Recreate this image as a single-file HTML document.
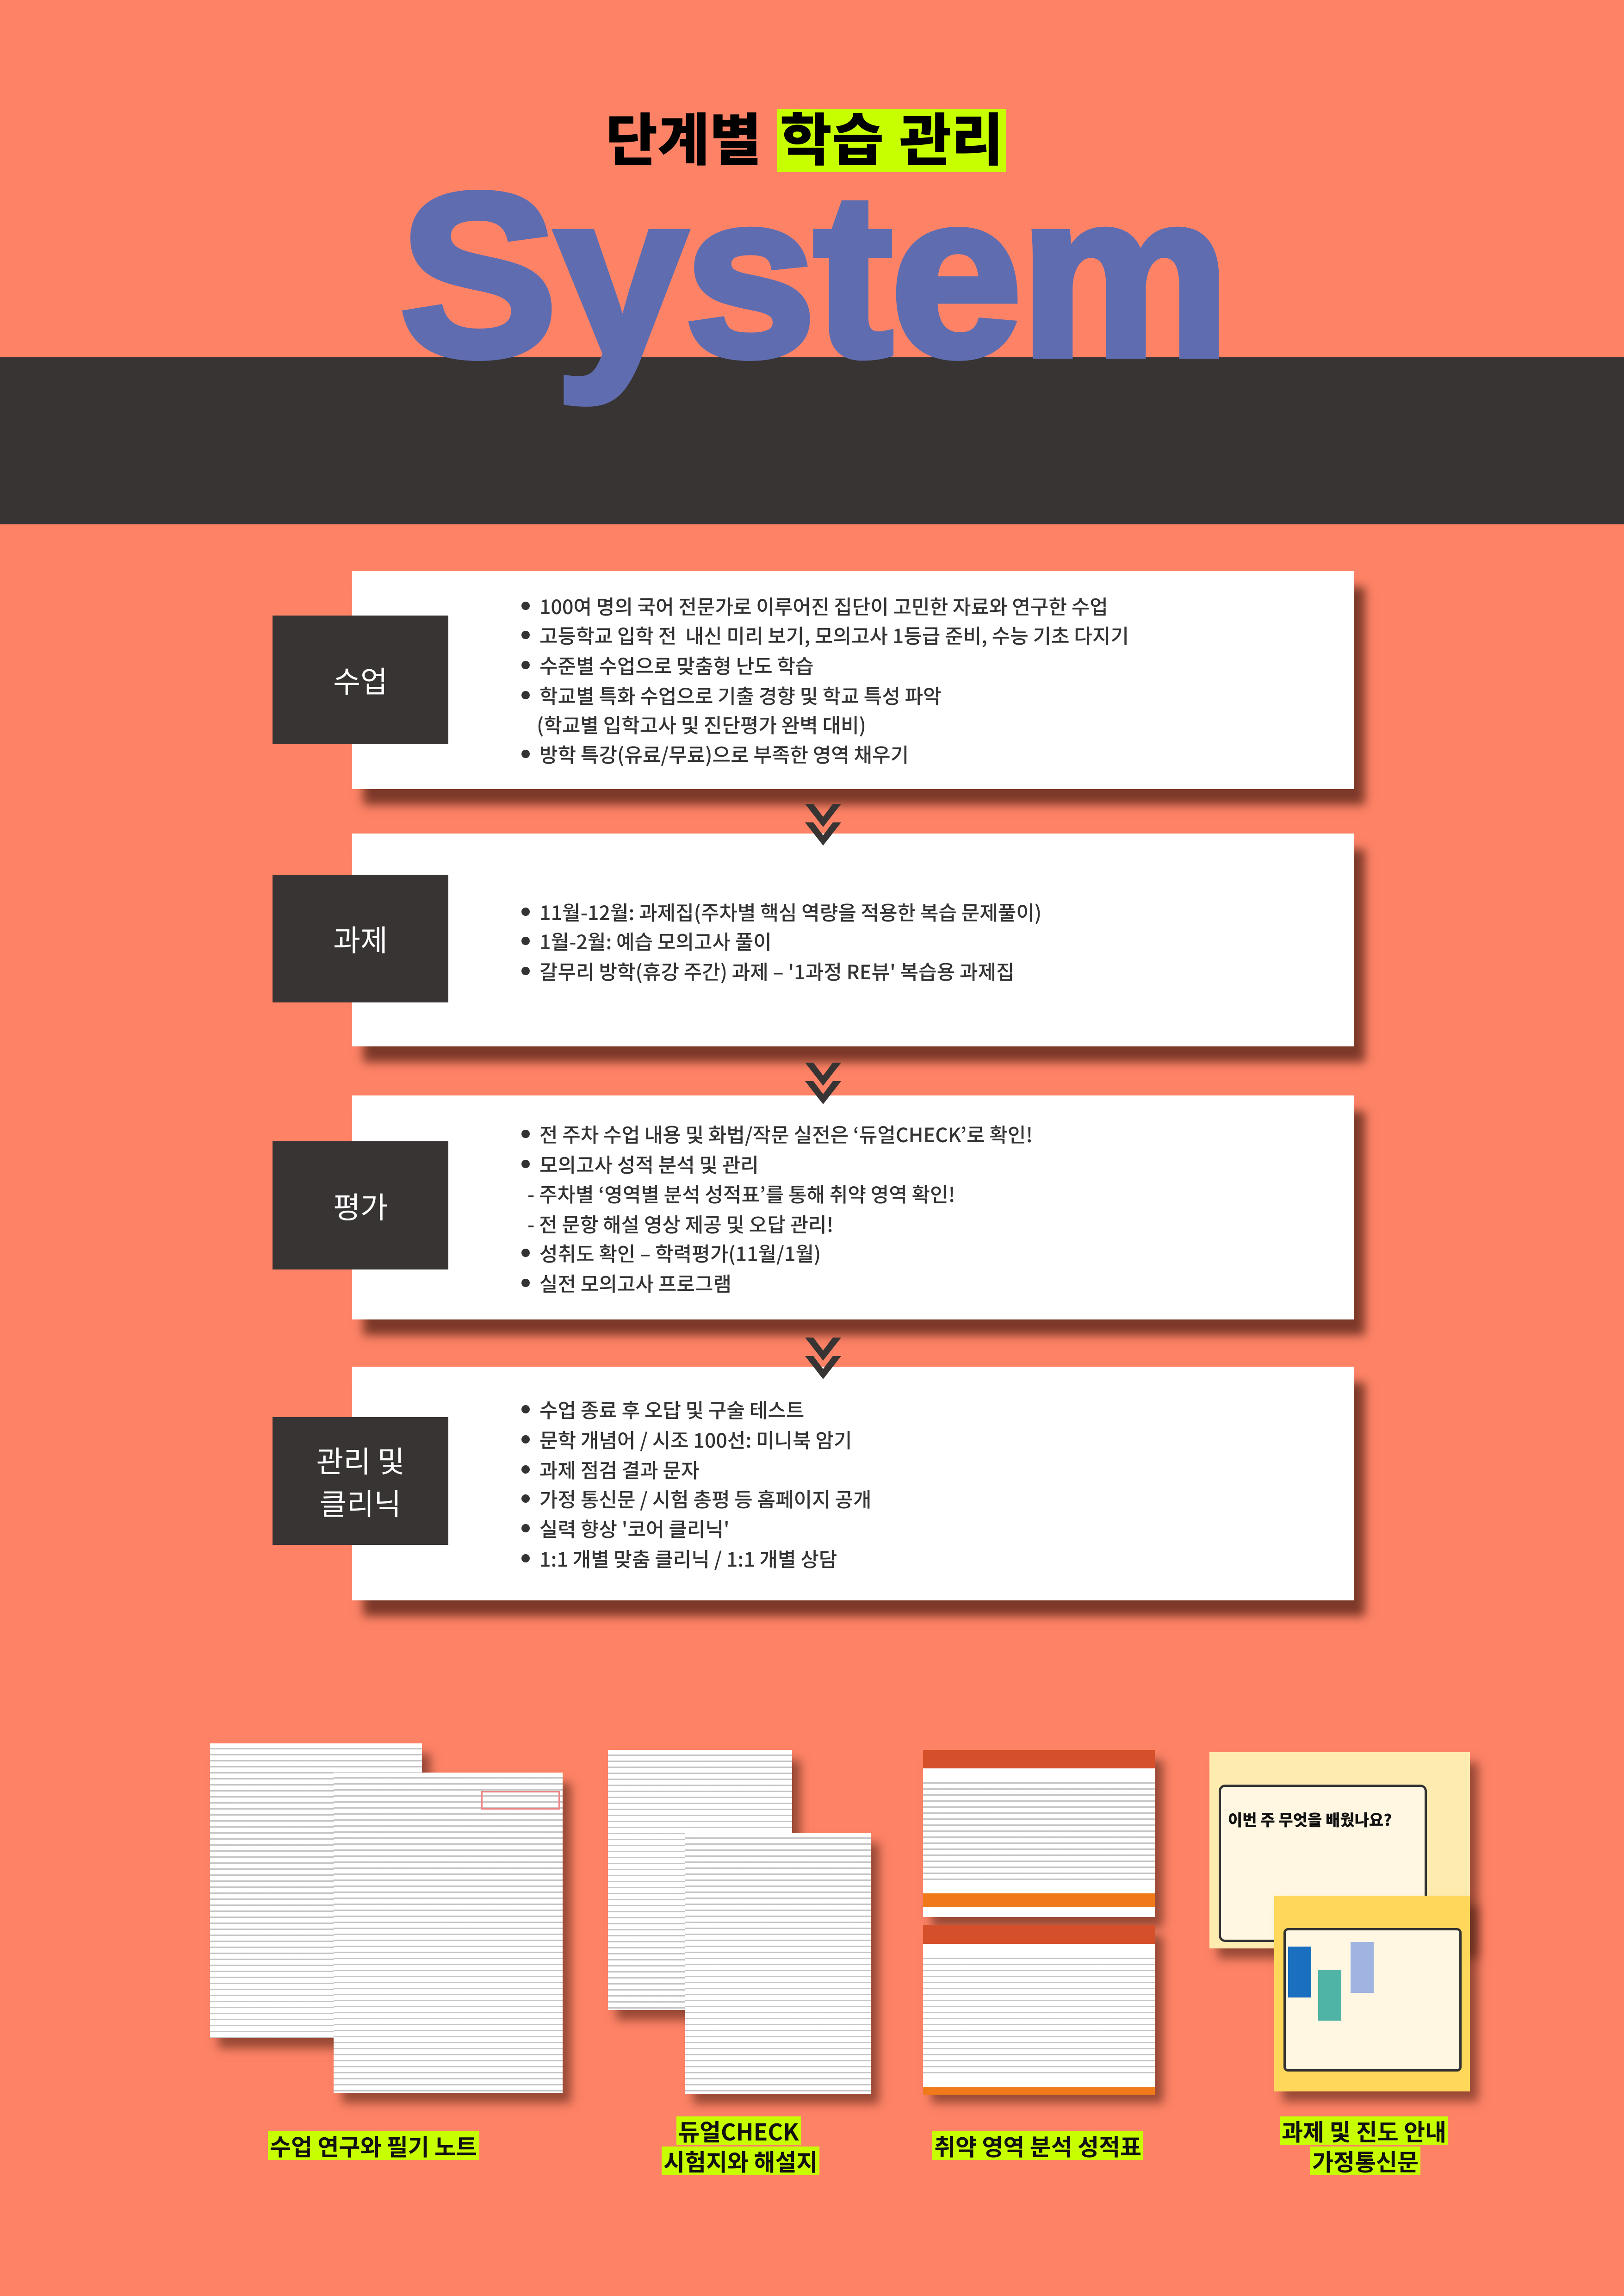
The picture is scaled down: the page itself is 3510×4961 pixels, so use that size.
<!DOCTYPE html>
<html><head><meta charset="utf-8">
<style>
*{margin:0;padding:0;box-sizing:border-box}
body{width:3510px;height:4961px;background:#FE8366;position:relative;overflow:hidden;font-family:"Liberation Sans","Noto Sans CJK KR",sans-serif}
.abs{position:absolute}
.band{left:0;top:772px;width:3510px;height:361px;background:#383434}
.title{left:1309px;top:214px;font-family:"Liberation Sans","Noto Sans CJK KR",sans-serif;font-weight:900;font-size:122px;line-height:180px;color:#000;white-space:nowrap}
.title span{background:#C8FF00;padding:0 6px}
.sys{left:864px;top:274px;font-family:"Liberation Sans",sans-serif;font-weight:bold;font-size:500px;line-height:640px;color:#5F6DB0;-webkit-text-stroke:16px #5F6DB0;letter-spacing:-4px;white-space:nowrap;transform-origin:0 0;transform:scaleX(1.02)}
.box{left:761px;width:2165px;background:#fff;box-shadow:24px 34px 20px rgba(70,25,15,0.7)}
.lab{left:589px;width:380px;background:#383434;color:#fff;font-family:"Noto Sans CJK KR",sans-serif;font-size:64px;display:flex;align-items:center;justify-content:center;text-align:center;line-height:92px}
.ln{position:absolute;left:1166px;font-family:"Noto Sans CJK KR",sans-serif;font-weight:500;font-size:43px;color:#333;white-space:nowrap;line-height:52px;transform:translateY(-26px)}
.ln.b::before{content:"";position:absolute;left:-39px;top:17px;width:18px;height:18px;border-radius:50%;background:#333}
.chev{position:absolute;left:1740px;width:78px;height:90px;z-index:5}
.cap{position:absolute;font-family:"Noto Sans CJK KR",sans-serif;font-weight:bold;font-size:50px;line-height:62px;color:#111;white-space:nowrap;background:#C8FF00;padding:0 4px}
.pg{position:absolute;background:#fff;box-shadow:18px 22px 20px rgba(70,25,15,0.55)}
.tx{background-image:repeating-linear-gradient(180deg,transparent 0 10px,rgba(90,90,90,.35) 10px 13px)}
</style></head><body>
<div class="abs band"></div>
<div class="abs title">단계별 <span>학습 관리</span></div>
<div class="abs sys">System</div>

<div class="abs box" style="top:1234px;height:471px"></div>
<div class="abs lab" style="top:1330px;height:277px">수업</div>
<div class="ln b" style="top:1309px">100여 명의 국어 전문가로 이루어진 집단이 고민한 자료와 연구한 수업</div>
<div class="ln b" style="top:1372px">고등학교 입학 전&nbsp; 내신 미리 보기, 모의고사 1등급 준비, 수능 기초 다지기</div>
<div class="ln b" style="top:1437px">수준별 수업으로 맞춤형 난도 학습</div>
<div class="ln b" style="top:1502px">학교별 특화 수업으로 기출 경향 및 학교 특성 파악</div>
<div class="ln" style="top:1565px;left:1160px">(학교별 입학고사 및 진단평가 완벽 대비)</div>
<div class="ln b" style="top:1629px">방학 특강(유료/무료)으로 부족한 영역 채우기</div>

<svg class="chev" style="top:1737px" viewBox="0 0 78 90"><path d="M0 0L18 0L39 28L60 0L78 0L39 50Z M0 40L18 40L39 68L60 40L78 40L39 90Z" fill="#383434"/></svg>

<div class="abs box" style="top:1801px;height:460px"></div>
<div class="abs lab" style="top:1890px;height:276px">과제</div>
<div class="ln b" style="top:1970px">11월-12월: 과제집(주차별 핵심 역량을 적용한 복습 문제풀이)</div>
<div class="ln b" style="top:2033px">1월-2월: 예습 모의고사 풀이</div>
<div class="ln b" style="top:2098px">갈무리 방학(휴강 주간) 과제 – '1과정 RE뷰' 복습용 과제집</div>

<svg class="chev" style="top:2296px" viewBox="0 0 78 90"><path d="M0 0L18 0L39 28L60 0L78 0L39 50Z M0 40L18 40L39 68L60 40L78 40L39 90Z" fill="#383434"/></svg>

<div class="abs box" style="top:2367px;height:484px"></div>
<div class="abs lab" style="top:2466px;height:277px">평가</div>
<div class="ln b" style="top:2450px">전 주차 수업 내용 및 화법/작문 실전은 ‘듀얼CHECK’로 확인!</div>
<div class="ln b" style="top:2515px">모의고사 성적 분석 및 관리</div>
<div class="ln" style="top:2579px;left:1140px">- 주차별 ‘영역별 분석 성적표’를 통해 취약 영역 확인!</div>
<div class="ln" style="top:2644px;left:1140px">- 전 문항 해설 영상 제공 및 오답 관리!</div>
<div class="ln b" style="top:2707px">성취도 확인 – 학력평가(11월/1월)</div>
<div class="ln b" style="top:2772px">실전 모의고사 프로그램</div>

<svg class="chev" style="top:2890px" viewBox="0 0 78 90"><path d="M0 0L18 0L39 28L60 0L78 0L39 50Z M0 40L18 40L39 68L60 40L78 40L39 90Z" fill="#383434"/></svg>

<div class="abs box" style="top:2953px;height:505px"></div>
<div class="abs lab" style="top:3062px;height:276px">관리 및<br>클리닉</div>
<div class="ln b" style="top:3045px">수업 종료 후 오답 및 구술 테스트</div>
<div class="ln b" style="top:3110px">문학 개념어 / 시조 100선: 미니북 암기</div>
<div class="ln b" style="top:3175px">과제 점검 결과 문자</div>
<div class="ln b" style="top:3238px">가정 통신문 / 시험 총평 등 홈페이지 공개</div>
<div class="ln b" style="top:3302px">실력 향상 '코어 클리닉'</div>
<div class="ln b" style="top:3367px">1:1 개별 맞춤 클리닉 / 1:1 개별 상담</div>

<div class="pg tx" style="left:454px;top:3767px;width:458px;height:637px"></div>
<div class="pg tx" style="left:721px;top:3830px;width:495px;height:692px;background-color:#fff"></div>
<div class="abs" style="left:1040px;top:3870px;width:170px;height:40px;border:3px solid #e88;"></div>
<div class="pg tx" style="left:1314px;top:3781px;width:398px;height:562px"></div>
<div class="pg tx" style="left:1480px;top:3960px;width:402px;height:564px"></div>
<div class="pg" style="left:1995px;top:3781px;width:501px;height:361px">
 <div style="height:40px;background:#D5502A"></div>
 <div class="tx" style="margin:20px 0;height:230px"></div>
 <div style="height:30px;background:#F07A1A"></div>
</div>
<div class="pg" style="left:1995px;top:4160px;width:501px;height:362px">
 <div style="height:40px;background:#D5502A"></div>
 <div class="tx" style="margin:20px 0;height:270px"></div>
 <div style="height:16px;background:#F07A1A"></div>
</div>
<div class="pg" style="left:2614px;top:3786px;width:563px;height:424px;background:#FDEBB0">
 <div style="position:absolute;left:20px;top:70px;width:450px;height:340px;border:5px solid #333;border-radius:14px;background:#FFF7E2"></div>
 <div style="position:absolute;left:40px;top:120px;font-family:'Noto Sans CJK KR',sans-serif;font-weight:900;font-size:34px;color:#111">이번 주 무엇을 배웠나요?</div>
</div>
<div class="pg" style="left:2754px;top:4096px;width:423px;height:423px;background:#FFD75A">
 <div style="position:absolute;left:20px;top:70px;width:385px;height:310px;border:5px solid #333;border-radius:10px;background:#FFF7E2"></div>
 <div style="position:absolute;left:30px;top:110px;width:50px;height:110px;background:#1a6fc0"></div>
 <div style="position:absolute;left:95px;top:160px;width:50px;height:110px;background:#4fb3a5"></div>
 <div style="position:absolute;left:165px;top:100px;width:50px;height:110px;background:#9fb4e0"></div>
</div>

<div class="cap" style="left:579px;top:4605px">수업 연구와 필기 노트</div>
<div class="cap" style="left:1462px;top:4573px">듀얼CHECK</div>
<div class="cap" style="left:1430px;top:4638px">시험지와 해설지</div>
<div class="cap" style="left:2015px;top:4605px">취약 영역 분석 성적표</div>
<div class="cap" style="left:2766px;top:4573px">과제 및 진도 안내</div>
<div class="cap" style="left:2832px;top:4638px">가정통신문</div>
</body></html>
